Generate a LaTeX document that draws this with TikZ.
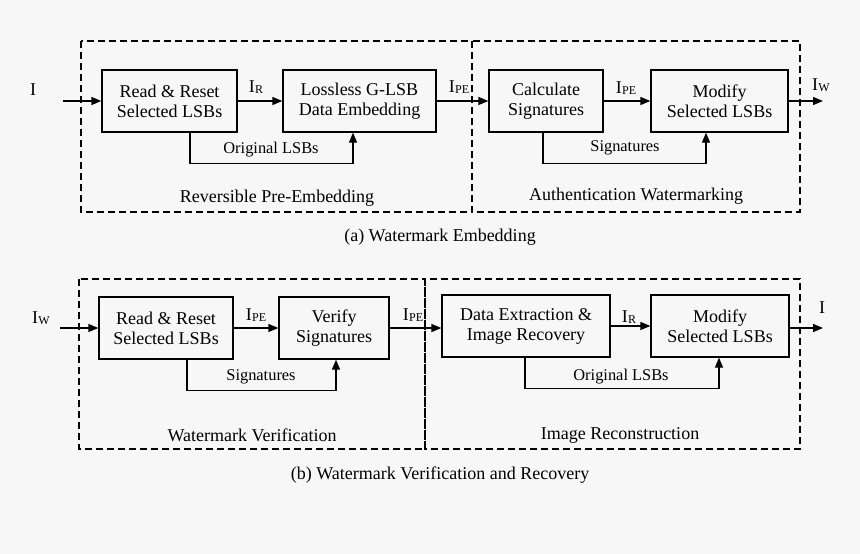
\documentclass[tikz,border=0pt]{standalone}
\usepackage{fontspec}
\setmainfont{Liberation Serif}
\usetikzlibrary{arrows.meta}
\definecolor{bgpaper}{RGB}{247,247,247}
\newcommand{\isub}[1]{I\kern.3pt\raisebox{-1pt}{\fontsize{12}{12}\selectfont #1}}
\tikzset{
  blockbox/.style={draw,line width=1.3pt,minimum height=62pt,inner sep=0pt,
    align=center,font=\fontsize{18}{20}\selectfont},
  stagebox/.style={draw,dash pattern=on 7pt off 4pt,line width=1.2pt},
  arr/.style={line width=1.3pt,-{Triangle[length=10pt,width=8pt]}},
  fblabel/.style={font=\fontsize{16.4}{18}\selectfont,inner sep=0pt},
  siglabel/.style={font=\fontsize{18}{20}\selectfont,inner sep=0pt},
}

\begin{document}
\begin{tikzpicture}[x=1pt,y=-1pt]

  \fill[bgpaper] (0,0) rectangle (860,554);
  \useasboundingbox (0,0) rectangle (860,554);

  % (a) watermark embedding
  \draw[stagebox] (81,41) rectangle (472,212);
  \draw[stagebox] (472,41) rectangle (800,212);

  \begin{scope}[every node/.style={blockbox}]
    \node[minimum width=135pt] (rr1)  at (169.5,101) {Read \& Reset\\Selected LSBs};
    \node[minimum width=153pt] (emb)  at (359.5,101) {Lossless G-LSB\\Data Embedding};
    \node[minimum width=114pt] (calc) at (546,101)   {Calculate\\Signatures};
    \node[minimum width=137pt] (mod1) at (719.5,101) {Modify\\Selected LSBs};
  \end{scope}

  \coordinate (in1)  at (63,101);
  \coordinate (out1) at (823,101);

  \draw[arr] (in1) -- (rr1);
  \draw[arr] (rr1) -- (emb);
  \draw[arr] (emb) -- (calc);
  \draw[arr] (calc) -- (mod1);
  \draw[arr] (mod1) -- (out1);
  \draw[arr] ([xshift=20.5pt]rr1.south) -- ++(0,31) -| ([xshift=-6.5pt]emb.south);
  \draw[arr] ([xshift=-3pt]calc.south) -- ++(0,31) -| ([xshift=-13.5pt]mod1.south);

  \begin{scope}[every node/.style={siglabel}]
    \node (lI1)   at (33,90)  {I};
    \node (lIR1)  at (256,87) {\isub{R}};
    \node (lIPE1) at (459,87) {\isub{PE}};
    \node (lIPE2) at (626,88) {\isub{PE}};
    \node (lIW1)  at (821,85) {\isub{W}};
    \node (sec1)  at (277,198) {Reversible Pre-Embedding};
    \node (sec2)  at (636,196) {Authentication Watermarking};
    \node (capa)  at (440,237) {(a) Watermark Embedding};
  \end{scope}
  \node[fblabel] (fb1) at (271,150) {Original LSBs};
  \node[fblabel] (fb2) at (625,148) {Signatures};

  % (b) watermark verification and recovery
  \draw[stagebox] (79,279) rectangle (425,449);
  \draw[stagebox] (425,279) rectangle (800,449);

  \begin{scope}[every node/.style={blockbox}]
    \node[minimum width=134pt] (rr2)  at (166,328) {Read \& Reset\\Selected LSBs};
    \node[minimum width=110pt] (ver)  at (334,328) {Verify\\Signatures};
    \node[minimum width=168pt] (ext)  at (526,326) {Data Extraction \&\\Image Recovery};
    \node[minimum width=138pt] (mod2) at (720,326) {Modify\\Selected LSBs};
  \end{scope}

  \coordinate (in2)  at (60,328);
  \coordinate (out2) at (823,328);

  \draw[arr] (in2) -- (rr2);
  \draw[arr] (rr2) -- (ver);
  \draw[arr] (ver.east) -- (ver.east -| ext.west);
  \draw[arr] (ext) -- (mod2);
  \draw[arr] (mod2.east |- out2) -- (out2);
  \draw[arr] ([xshift=21pt]rr2.south) -- ++(0,31) -| ([xshift=2pt]ver.south);
  \draw[arr] ([xshift=-1pt]ext.south) -- ++(0,31) -| ([xshift=-1pt]mod2.south);

  \begin{scope}[every node/.style={siglabel}]
    \node (lIW2)  at (41,318)  {\isub{W}};
    \node (lIPE3) at (256,315) {\isub{PE}};
    \node (lIPE4) at (413,315) {\isub{PE}};
    \node (lIR2)  at (629,317) {\isub{R}};
    \node (lI2)   at (822,308) {I};
    \node (sec3)  at (252,435) {Watermark Verification};
    \node (sec4)  at (620,435) {Image Reconstruction};
    \node (capb)  at (440,475) {(b) Watermark Verification and Recovery};
  \end{scope}
  \node[fblabel] (fb3) at (261,377) {Signatures};
  \node[fblabel] (fb4) at (621,377) {Original LSBs};

\end{tikzpicture}
\end{document}
